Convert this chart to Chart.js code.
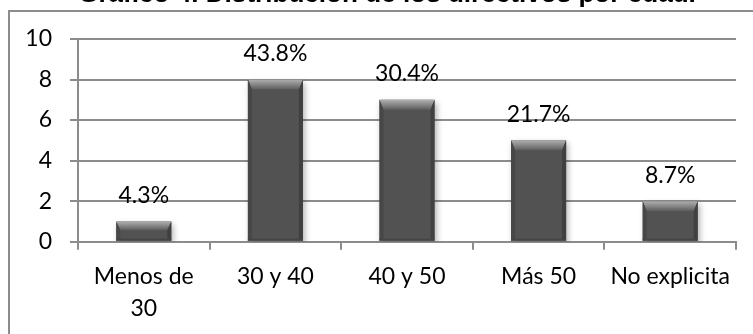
<!DOCTYPE html>
<html>
<head>
<meta charset="utf-8">
<script src="https://cdn.jsdelivr.net/npm/chart.js@4"></script>
<style>
  html, body { margin: 0; padding: 0; background: #fff; overflow: hidden; }
  #wrap { position: absolute; left: 0; top: -16px; width: 753px; height: 350px; }
</style>
</head>
<body>
<div id="wrap"><canvas id="grafica_edad" width="753" height="350"></canvas></div>
<script>
// Directivos por grupo de edad
const categorias = [["Menos de", "30"], "30 y 40", "40 y 50", "Más 50", "No explicita"];
const directivos = [1, 8, 7, 5, 2];
const porcentajes = ["4.3%", "43.8%", "30.4%", "21.7%", "8.7%"];
const ticksY = [0, 2, 4, 6, 8, 10];

const fuente = "Lato, 'Open Sans', sans-serif";

// marco gris alrededor del gráfico; el título se centra sobre el marco
const marco = {
  id: "marco",
  afterLayout(chart) {
    chart.titleBlock.left = 8;
    chart.titleBlock.right = 766;
  },
  beforeDraw(chart) {
    const ctx = chart.ctx;
    ctx.save();
    ctx.strokeStyle = "#8c8c8c";
    ctx.lineWidth = 2;
    ctx.strokeRect(9, 27, 1000, 1000);
    ctx.restore();
  }
};

// sombra y bisel de las barras
const bisel = {
  id: "bisel",
  beforeDatasetsDraw(chart) {
    const ctx = chart.ctx;
    ctx.save();
    ctx.shadowColor = "rgba(0,0,0,0.3)";
    ctx.shadowBlur = 6;
    ctx.shadowOffsetX = 2;
    ctx.shadowOffsetY = 3;
  },
  afterDatasetsDraw(chart) {
    const ctx = chart.ctx;
    ctx.restore();
    const meta = chart.getDatasetMeta(0);
    meta.data.forEach((bar) => {
      const { x, y, base, width } = bar.getProps(["x", "y", "base", "width"], true);
      const l = x - width / 2, r = x + width / 2, t = y, b = base;
      const bt = Math.min(10, (b - t) / 2.2);
      const bs = Math.min(4, (b - t) / 4);
      ctx.save();
      // cara superior
      let g = ctx.createLinearGradient(0, t, 0, t + bt);
      g.addColorStop(0, "#b0b0b0");
      g.addColorStop(1, "#5c5c5c");
      ctx.fillStyle = g;
      ctx.beginPath();
      ctx.moveTo(l, t); ctx.lineTo(r, t); ctx.lineTo(r - bs, t + bt); ctx.lineTo(l + bs, t + bt);
      ctx.closePath(); ctx.fill();
      // lado izquierdo
      ctx.fillStyle = "#474747";
      ctx.beginPath();
      ctx.moveTo(l, t); ctx.lineTo(l + bs, t + bt); ctx.lineTo(l + bs, b - 2); ctx.lineTo(l, b);
      ctx.closePath(); ctx.fill();
      // lado derecho
      ctx.fillStyle = "#404040";
      ctx.beginPath();
      ctx.moveTo(r, t); ctx.lineTo(r - bs, t + bt); ctx.lineTo(r - bs, b - 2); ctx.lineTo(r, b);
      ctx.closePath(); ctx.fill();
      // borde inferior
      ctx.fillStyle = "#444";
      ctx.fillRect(l, b - 2, width, 2);
      ctx.restore();
    });
  }
};

// porcentajes encima de cada barra
const etiquetas = {
  id: "etiquetas",
  afterDatasetsDraw(chart) {
    const ctx = chart.ctx;
    const meta = chart.getDatasetMeta(0);
    ctx.save();
    ctx.font = "23px " + fuente;
    ctx.fillStyle = "#000";
    ctx.textAlign = "center";
    ctx.textBaseline = "middle";
    meta.data.forEach((bar, i) => {
      ctx.fillText(porcentajes[i], bar.x, bar.y - 26);
    });
    ctx.restore();
  }
};

new Chart("grafica_edad", {
  type: "bar",
  data: {
    labels: categorias,
    datasets: [{
      data: directivos,
      backgroundColor: "#525252",
      borderWidth: 0,
      categoryPercentage: 1,
      barPercentage: 0.418
    }]
  },
  options: {
    responsive: false,
    animation: false,
    devicePixelRatio: 1,
    layout: { padding: { left: 0, right: 17, top: 0, bottom: 0 } },
    plugins: {
      legend: { display: false },
      tooltip: { enabled: false },
      title: {
        display: true,
        text: "Gráfico 4. Distribución de los directivos por edad.",
        color: "#000",
        font: { family: "'Liberation Sans', Arial, sans-serif", size: 26.1, weight: "bold", lineHeight: 0.85 },
        padding: { top: 0, bottom: 32.8 }
      }
    },
    scales: {
      x: {
        offset: true,
        grid: { display: true, offset: true, drawOnChartArea: false, drawTicks: true, tickLength: 8, color: "#8c8c8c", lineWidth: 2 },
        border: { display: true, color: "#8c8c8c", width: 2 },
        ticks: { color: "#000", padding: 10, maxRotation: 0, autoSkip: false, font: { family: fuente, size: 23, lineHeight: 1.43 } },
        afterFit(scale) { scale.height = 92.3; }
      },
      y: {
        min: 0,
        max: 10,
        afterBuildTicks(scale) { scale.ticks = ticksY.map(v => ({ value: v })); },
        grid: { color: "#8c8c8c", lineWidth: 2, tickLength: 8 },
        border: { display: true, color: "#8c8c8c", width: 2 },
        ticks: { color: "#000", padding: 18, font: { family: fuente, size: 23 } },
        afterFit(scale) { scale.width = 78; }
      }
    }
  },
  plugins: [marco, bisel, etiquetas]
});
</script>
</body>
</html>
